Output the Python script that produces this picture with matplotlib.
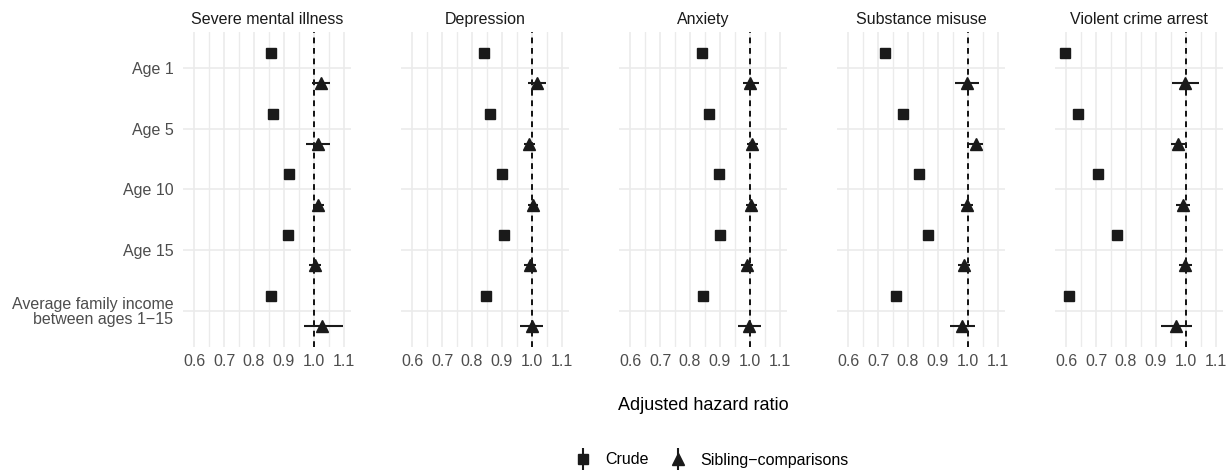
import numpy as np
import matplotlib.pyplot as plt
from matplotlib.lines import Line2D
from matplotlib.legend_handler import HandlerTuple

plt.rcParams['font.family'] = ['Liberation Sans', 'DejaVu Sans']

# datos
resultados = ["Severe mental illness", "Depression", "Anxiety",
              "Substance misuse", "Violent crime arrest"]
edades = ["Age 1", "Age 5", "Age 10", "Age 15",
          "Average family income\nbetween ages 1\u221215"]

# crudo: estimacion, limite inferior, limite superior
crudo_hr = [[0.856, 0.863, 0.918, 0.914, 0.856],
            [0.839, 0.861, 0.901, 0.908, 0.846],
            [0.840, 0.864, 0.898, 0.901, 0.844],
            [0.722, 0.782, 0.836, 0.866, 0.761],
            [0.596, 0.639, 0.706, 0.770, 0.609]]
crudo_lo = [[0.845, 0.852, 0.913, 0.909, 0.847],
            [0.834, 0.856, 0.896, 0.903, 0.841],
            [0.835, 0.859, 0.893, 0.896, 0.839],
            [0.717, 0.777, 0.831, 0.861, 0.756],
            [0.591, 0.634, 0.701, 0.765, 0.604]]
crudo_hi = [[0.868, 0.870, 0.923, 0.919, 0.866],
            [0.844, 0.866, 0.906, 0.913, 0.851],
            [0.845, 0.869, 0.903, 0.906, 0.849],
            [0.727, 0.787, 0.841, 0.871, 0.766],
            [0.601, 0.644, 0.711, 0.775, 0.614]]

# comparacion entre hermanos
herm_hr = [[1.024, 1.014, 1.014, 1.003, 1.028],
           [1.018, 0.992, 1.003, 0.994, 0.999],
           [1.000, 1.007, 1.004, 0.990, 0.998],
           [0.997, 1.027, 0.997, 0.986, 0.982],
           [0.997, 0.974, 0.989, 0.998, 0.966]]
herm_lo = [[0.994, 0.975, 0.996, 0.983, 0.966],
           [0.987, 0.973, 0.986, 0.975, 0.962],
           [0.976, 0.989, 0.987, 0.972, 0.961],
           [0.958, 1.002, 0.978, 0.967, 0.941],
           [0.955, 0.950, 0.967, 0.978, 0.918]]
herm_hi = [[1.055, 1.055, 1.033, 1.024, 1.098],
           [1.048, 1.012, 1.022, 1.014, 1.037],
           [1.029, 1.028, 1.024, 1.010, 1.037],
           [1.036, 1.050, 1.017, 1.006, 1.024],
           [1.045, 1.000, 1.013, 1.020, 1.020]]

W, H = 1232, 471
fig = plt.figure(figsize=(W / 100, H / 100), dpi=100)

izq = [183, 401, 619, 837, 1055]
ancho = 168
arriba, abajo = 32, 347
color = "#1a1a1a"
y = np.arange(1, len(edades) + 1)

for i, nombre in enumerate(resultados):
    ax = fig.add_axes([izq[i] / W, 1 - abajo / H, ancho / W, (abajo - arriba) / H])
    ax.set_xlim(0.563, 1.124)
    ax.set_ylim(5.6, 0.4)
    for s in ax.spines.values():
        s.set_visible(False)
    ax.set_xticks([0.6, 0.7, 0.8, 0.9, 1.0, 1.1])
    ax.set_xticklabels(["0.6", "0.7", "0.8", "0.9", "1.0", "1.1"])
    ax.set_xticks(np.arange(0.65, 1.12, 0.1), minor=True)
    ax.set_yticks(y)
    if i == 0:
        ax.set_yticklabels(edades, ha="right", linespacing=1.0)
    else:
        ax.set_yticklabels([])
    ax.tick_params(length=0, which="both", labelsize=11.5, labelcolor="#4d4d4d")
    ax.tick_params(axis="x", pad=5)
    ax.tick_params(axis="y", pad=7)
    ax.grid(True, which="major", color="#ebebeb", lw=1.2)
    ax.grid(True, which="minor", axis="x", color="#ebebeb", lw=1.0)
    ax.set_axisbelow(True)
    ax.set_title(nombre, fontsize=11.5, color=color, pad=6)

    ax.axvline(1.0, color="black", lw=1.3, ls=(0, (3.2, 2.6)), zorder=2)

    hr = np.array(crudo_hr[i])
    ax.hlines(y - 0.25, crudo_lo[i], crudo_hi[i], color=color, lw=1.5, zorder=3)
    ax.plot(hr, y - 0.25, "s", color=color, ms=7.5, zorder=4)
    hr2 = np.array(herm_hr[i])
    ax.hlines(y + 0.25, herm_lo[i], herm_hi[i], color=color, lw=1.5, zorder=3)
    ax.plot(hr2, y + 0.25, "^", color=color, ms=8.5, zorder=4)

fig.text(703 / W, 1 - 406 / H, "Adjusted hazard ratio", ha="center", va="center",
         fontsize=13, color="black")

barra = Line2D([], [], marker="|", ms=16, mew=1.5, color=color, ls="none")
cuad = Line2D([], [], marker="s", ms=7, color=color, ls="none")
tri = Line2D([], [], marker="^", ms=8.5, color=color, ls="none")
fig.legend([(barra, cuad), (barra, tri)], ["Crude", "Sibling\u2212comparisons"],
           handler_map={tuple: HandlerTuple(ndivide=1)},
           loc="center", bbox_to_anchor=(711 / W, 1 - 460 / H), ncol=2, frameon=False,
           fontsize=11.5, handlelength=1.2, handletextpad=0.8, columnspacing=1.2)

fig.savefig("out.png", dpi=100)
